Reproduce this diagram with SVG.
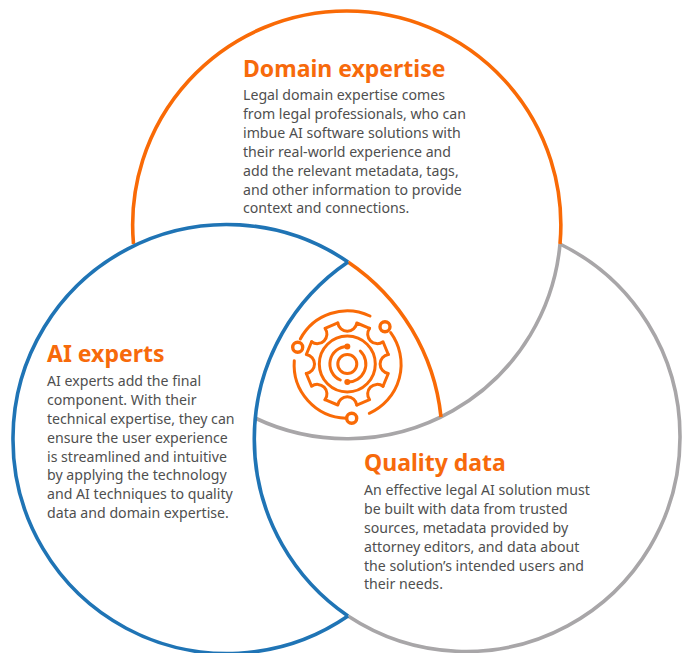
<svg xmlns="http://www.w3.org/2000/svg" xmlns:xlink="http://www.w3.org/1999/xlink" width="682" height="653" viewBox="0 0 682 653">
<style>
.h{font:700 23px "Noto Sans","Liberation Sans",sans-serif;fill:#f76a0b}
.b{font:400 14.15px "Noto Sans","Liberation Sans",sans-serif;fill:#4f4f4f}
.arc{fill:none;stroke-width:3.6}
.or{stroke:#f96a06}.bl{stroke:#1f74b5}.gr{stroke:#a8a6a8}
.ic{fill:none;stroke:#f96a06;stroke-width:3;stroke-linecap:round;stroke-linejoin:round}
</style>
<defs><path id="seg" d="M-9.5-41A9.6 9.6 0 0 0 9.5-41L22.3-35.7"/></defs>
<rect width="682" height="653" fill="#fff"/>
<g id="connectors">
<path class="arc gr" d="M560 244A214 214 0 0 1 680 437A214 214 0 0 1 348 616"/>
<path class="arc gr" d="M255 418A214 214 0 0 0 560 244"/>
<path class="arc or" d="M133.500 244A214 214 0 0 1 347 11A214 214 0 0 1 560 244"/>
<path class="arc or" d="M348 262A214 214 0 0 1 441 417"/>
<path class="arc bl" d="M348 616A214 214 0 0 1 13 437A214 214 0 0 1 348 262"/>
<path class="arc bl" d="M348 616A214 214 0 0 1 348 262"/>
</g>
<g id="node-center" class="ic" transform="translate(347.300 364)">
<use xlink:href="#seg"/>
<use xlink:href="#seg" transform="rotate(45)"/>
<use xlink:href="#seg" transform="rotate(90)"/>
<use xlink:href="#seg" transform="rotate(135)"/>
<use xlink:href="#seg" transform="rotate(180)"/>
<use xlink:href="#seg" transform="rotate(225)"/>
<use xlink:href="#seg" transform="rotate(270)"/>
<use xlink:href="#seg" transform="rotate(315)"/>
<circle r="28"/>
<circle r="9.500"/>
<path d="M0-17.500A17.500 17.500 0 0 0-7 16"/>
<path d="M0 18A18 18 0 0 0 13-13"/>
<circle cx="0" cy="-17.500" r="3" fill="#f96a06" stroke="none"/>
<circle cx="0" cy="18" r="3" fill="#f96a06" stroke="none"/>
<path d="M22.700-48A53 53 0 0 0-47-25"/>
<path d="M43.400-31.300A53.500 53.500 0 0 1 22 49.300"/>
<path d="M-53-3.300A53.500 53.500 0 0 0-1.300 54.300"/>
<circle cx="-49.600" cy="-16.700" r="5" stroke-width="3.400"/>
<circle cx="37.700" cy="-37.300" r="5" stroke-width="3.400"/>
<circle cx="4.400" cy="54.300" r="5" stroke-width="3.400"/>
</g>
<g id="node-domain">
<text class="h" x="243" y="77">Domain expertise</text>
<text class="b" x="243" y="100">Legal domain expertise comes</text>
<text class="b" x="243" y="119">from legal professionals, who can</text>
<text class="b" x="243" y="138">imbue AI software solutions with</text>
<text class="b" x="243" y="156.500">their real-world experience and</text>
<text class="b" x="243" y="175.500">add the relevant metadata, tags,</text>
<text class="b" x="243" y="194.500">and other information to provide</text>
<text class="b" x="243" y="213">context and connections.</text>
</g>
<g id="node-ai">
<text class="h" x="47" y="362">AI experts</text>
<text class="b" x="47" y="386">AI experts add the final</text>
<text class="b" x="47" y="405">component. With their</text>
<text class="b" x="47" y="424">technical expertise, they can</text>
<text class="b" x="47" y="442.500">ensure the user experience</text>
<text class="b" x="47" y="461.500">is streamlined and intuitive</text>
<text class="b" x="47" y="480">by applying the technology</text>
<text class="b" x="47" y="499">and AI techniques to quality</text>
<text class="b" x="47" y="518">data and domain expertise.</text>
</g>
<g id="node-quality">
<text class="h" x="364" y="471">Quality data</text>
<text class="b" x="364" y="495">An effective legal AI solution must</text>
<text class="b" x="364" y="514">be built with data from trusted</text>
<text class="b" x="364" y="533">sources, metadata provided by</text>
<text class="b" x="364" y="551.500">attorney editors, and data about</text>
<text class="b" x="364" y="570.500">the solution’s intended users and</text>
<text class="b" x="364" y="589">their needs.</text>
</g>
</svg>
